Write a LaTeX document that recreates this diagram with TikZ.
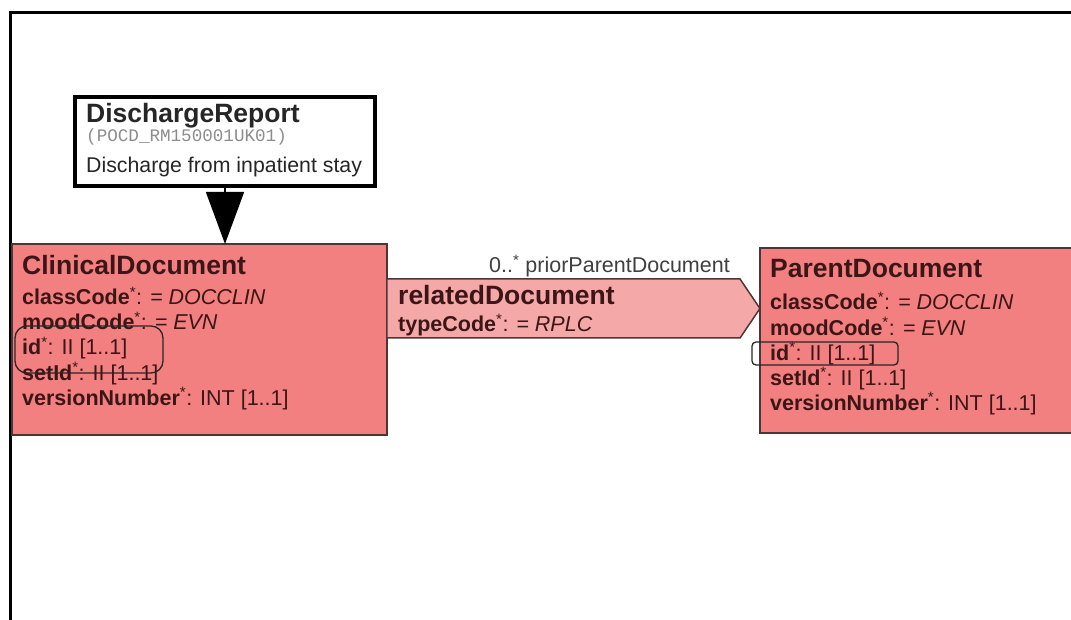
\documentclass[tikz,border=0pt]{standalone}
\usepackage{fontspec}
\setmainfont{Liberation Sans}
\newfontfamily\idmono{Liberation Mono}
\usetikzlibrary{shapes.symbols,arrows.meta}
\definecolor{boxfill}{RGB}{242,128,128}
\definecolor{arrowfill}{RGB}{245,168,168}
\definecolor{txt}{RGB}{60,22,22}
\definecolor{edge}{RGB}{75,55,55}
\newcommand\attrline[2]{\textbf{#1}\textsuperscript{*}: #2}
\begin{document}
\begin{tikzpicture}[x=1pt,y=-1pt,
  classbox/.style={draw=edge, line width=1.6pt, fill=boxfill, inner sep=0pt, outer sep=0pt},
  ttl/.style={anchor=base west, inner sep=0pt, font=\bfseries\fontsize{26.5}{30}\selectfont, text=txt},
  attr/.style={anchor=base west, inner sep=0pt, font=\fontsize{21.5}{25}\selectfont, text=txt},
  idmark/.style={draw=black!85, line width=1.3pt, inner sep=0pt, outer sep=0pt}]
\useasboundingbox (0,0) rectangle (1071,620);
\fill[white] (0,0) rectangle (1071,620);
% frame
\draw[line width=3pt] (10,622) -- (10,13) -- (1075,13);

% boxes
\node[classbox, minimum width=375pt, minimum height=191pt] (cd) at (199.5,339.5) {};
\node[classbox, minimum width=330pt, minimum height=185pt] (pd) at (925,340.5) {};
\node[signal, signal to=east, signal from=nowhere, signal pointer angle=112,
      draw=edge, fill=arrowfill, line width=1.5pt, inner sep=0pt, outer sep=0pt,
      minimum width=373pt, minimum height=59pt] (rd) at (563.5,308.5) {};
\node[draw=black, line width=4pt, fill=white, minimum width=300pt, minimum height=89pt,
      inner sep=0pt, outer sep=0pt] (dr) at (225,141.5) {};

% arrow from DischargeReport to ClinicalDocument
\draw[line width=1.5pt, -{Triangle[length=52pt,width=38pt]}] (dr.south) -- (dr.south |- cd.north);

% DischargeReport texts
\node[anchor=base west, inner sep=0pt, font=\bfseries\fontsize{26.5}{30}\selectfont, text=black!85] (drt) at (86,123) {DischargeReport};
\node[anchor=base west, inner sep=0pt, font=\idmono\fontsize{17.6}{20}\selectfont, text=black!45] (drid) at (86,142) {(POCD\_RM150001UK01)};
\node[anchor=base west, inner sep=0pt, font=\fontsize{21.3}{25}\selectfont, text=black!85] (drd) at (86,173) {Discharge from inpatient stay};

% ClinicalDocument texts
\node[ttl] (cdt) at (22,275) {ClinicalDocument};
\node[attr] (cd1) at (22,305) {\attrline{classCode}{\textit{= DOCCLIN}}};
\node[attr] (cd2) at (22,330) {\attrline{moodCode}{\textit{= EVN}}};
\node[attr] (cd3) at (22,355) {\attrline{id}{II [1..1]}};
\node[attr] (cd4) at (22,380) {\attrline{setId}{II [1..1]}};
\node[attr] (cd5) at (22,405) {\attrline{versionNumber}{INT [1..1]}};

% ParentDocument texts
\node[ttl] (pdt) at (770,278) {ParentDocument};
\node[attr] (pd1) at (770,310) {\attrline{classCode}{\textit{= DOCCLIN}}};
\node[attr] (pd2) at (770,335) {\attrline{moodCode}{\textit{= EVN}}};
\node[attr] (pd3) at (770,360) {\attrline{id}{II [1..1]}};
\node[attr] (pd4) at (770,385) {\attrline{setId}{II [1..1]}};
\node[attr] (pd5) at (770,410) {\attrline{versionNumber}{INT [1..1]}};

% relatedDocument texts
\node[ttl] (rdt) at (398,305) {relatedDocument};
\node[attr] (rd1) at (398,332) {\attrline{typeCode}{\textit{= RPLC}}};
\node[anchor=base east, inner sep=0pt, font=\fontsize{21.5}{25}\selectfont, text=black!75] (rdl) at (730,273) {0..\textsuperscript{*} priorParentDocument};

% highlight marks around id
\node[idmark, rounded corners=12pt, minimum width=148pt, minimum height=47pt] (mk1) at (89,349.5) {};
\node[idmark, rounded corners=4pt, minimum width=146pt, minimum height=23pt] (mk2) at (825,353.5) {};
\end{tikzpicture}
\end{document}
